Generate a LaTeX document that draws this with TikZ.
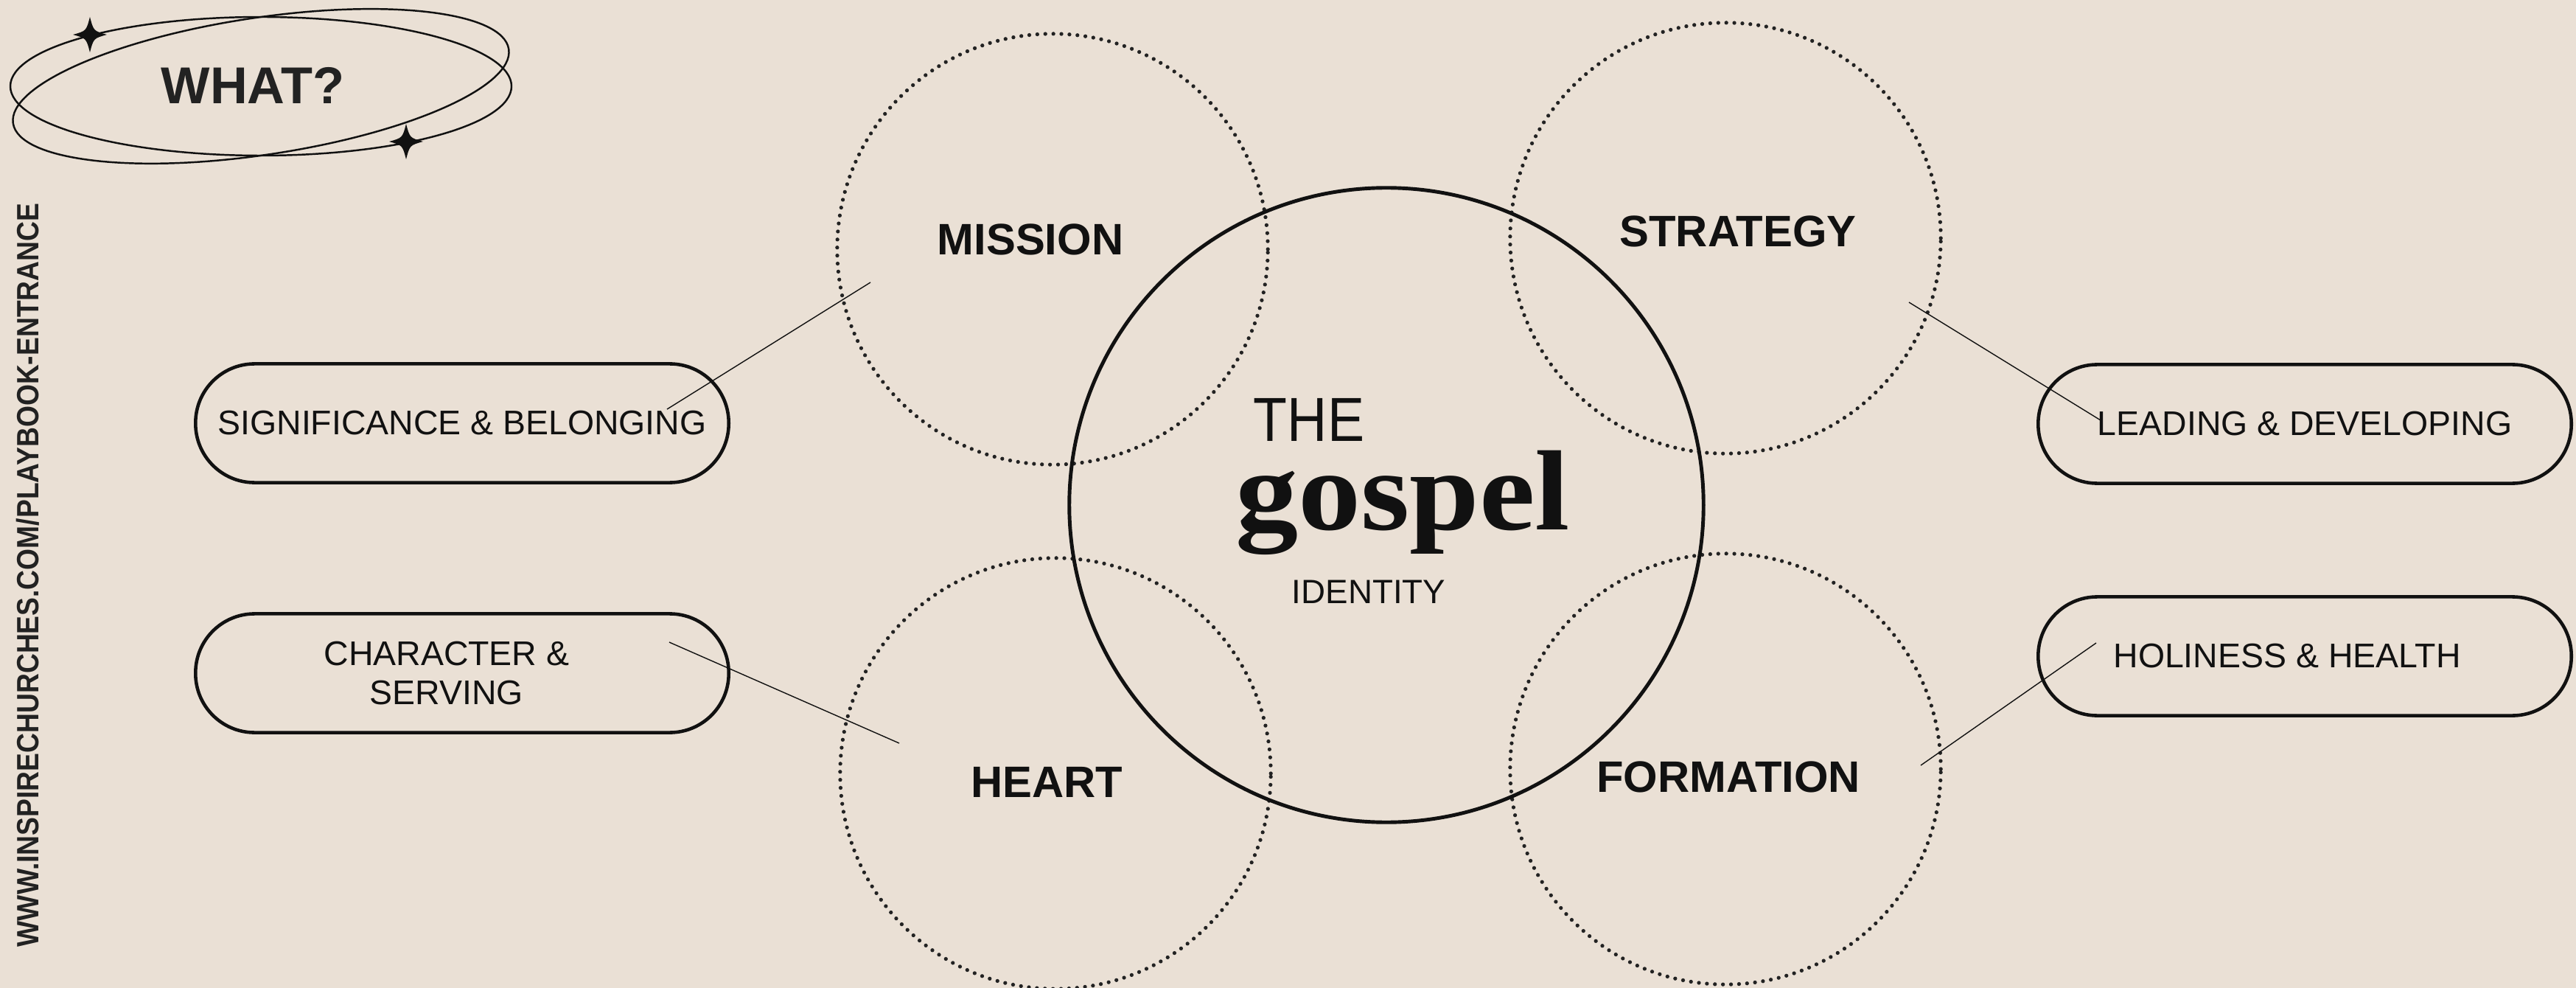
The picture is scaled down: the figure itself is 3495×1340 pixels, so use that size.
\documentclass[tikz,border=0pt]{standalone}
\usepackage{fontspec}
\setmainfont{Liberation Sans}
\newfontfamily\displayserif[FakeStretch=1.1]{Liberation Serif}
\newfontfamily\narrowsans[FakeStretch=0.89]{Liberation Sans}
\definecolor{paper}{HTML}{EAE0D5}
\definecolor{ink}{HTML}{111111}
\definecolor{dotink}{HTML}{222222}

\begin{document}
\begin{tikzpicture}[
	x = 0.01cm, y = -0.01cm,
	every node/.style = {text = ink, inner sep = 0pt},
	area/.style = {circle, draw = dotink, line width = 1.5pt, line cap = round, dash pattern = on 0pt off 3.1pt, minimum size = 5.84cm},
	core/.style = {circle, draw = ink, line width = 1.4pt, minimum size = 8.6cm},
	area label/.style = {font = \fontsize{17}{20}\selectfont\bfseries},
	pill/.style = {draw = ink, line width = 1.3pt, rounded corners = 0.8cm, minimum width = 7.23cm, minimum height = 1.61cm, align = center, font = \fontsize{13.2}{14.8}\selectfont},
	link/.style = {draw = ink, line width = 0.4pt},
	badge/.style = {draw = ink, line width = 0.7pt},
	sparkle/.pic = {
		\fill[ink] (0,-24) .. controls (5,-5) .. (23,0) .. controls (5,5) .. (0,24)
			.. controls (-5,5) .. (-23,0) .. controls (-5,-5) .. cycle;
	}
	]
	\fill[paper] (0,0) rectangle (3495,1340);
	\useasboundingbox (0,0) rectangle (3495,1340);

	\draw[badge, rotate around = {8.5:(354,117)}] (354,117) ellipse [x radius = 340, y radius = 93];
	\draw[badge] (354,117) ellipse [x radius = 340, y radius = 94];
	\node[font = \fontsize{20}{22}\selectfont\bfseries, text = dotink] (what) at (343,116) {WHAT?};
	\pic at (122,47) {sparkle};
	\pic at (551,192) {sparkle};

	\node[rotate = 90, font = \narrowsans\fontsize{11.9}{13}\selectfont\bfseries, text = dotink] (site) at (38,780) {WWW.INSPIRECHURCHES.COM/PLAYBOOK-ENTRANCE};

	\node[area] (mission) at (1428,338) {};
	\node[area] (strategy) at (2341,323) {};
	\node[area] (heart) at (1432,1049) {};
	\node[area] (formation) at (2341,1043) {};
	\node[core] (gospel) at (1881,685) {};

	\node[area label] (missionText) at (1398,325) {MISSION};
	\node[area label] (strategyText) at (2358,314) {STRATEGY};
	\node[area label] (heartText) at (1420,1061) {HEART};
	\node[area label] (formationText) at (2345,1054) {FORMATION};

	\node[anchor = base, font = \narrowsans\fontsize{24}{26}\selectfont] (theWord) at (1776,599) {THE};
	\node[anchor = base, font = \displayserif\fontsize{44}{46}\selectfont\bfseries] (gospelWord) at (1903,718) {gospel};
	\node[anchor = base, font = \fontsize{13}{15}\selectfont] (identity) at (1857,818) {IDENTITY};

	\node[pill] (significance) at (627,574) {SIGNIFICANCE \& BELONGING};
	\node[pill] (character) at (627,913) {CHARACTER \&\hspace*{12pt}\\SERVING\hspace*{12pt}};
	\node[pill] (leading) at (3127,575) {LEADING \& DEVELOPING};
	\node[pill] (holiness) at (3127,890) {HOLINESS \& HEALTH\hspace*{13.6pt}};

	\coordinate (sigTip) at (905,555);
	\coordinate (missionTip) at (1181,383);
	\coordinate (charTip) at (908,871);
	\coordinate (heartTip) at (1220,1008);
	\coordinate (strategyTip) at (2590,410);
	\coordinate (leadTip) at (2850,570);
	\coordinate (formationTip) at (2606,1038);
	\coordinate (holyTip) at (2844,872);

	\draw[link] (sigTip) -- (missionTip);
	\draw[link] (charTip) -- (heartTip);
	\draw[link] (strategyTip) -- (leadTip);
	\draw[link] (formationTip) -- (holyTip);
\end{tikzpicture}
\end{document}
